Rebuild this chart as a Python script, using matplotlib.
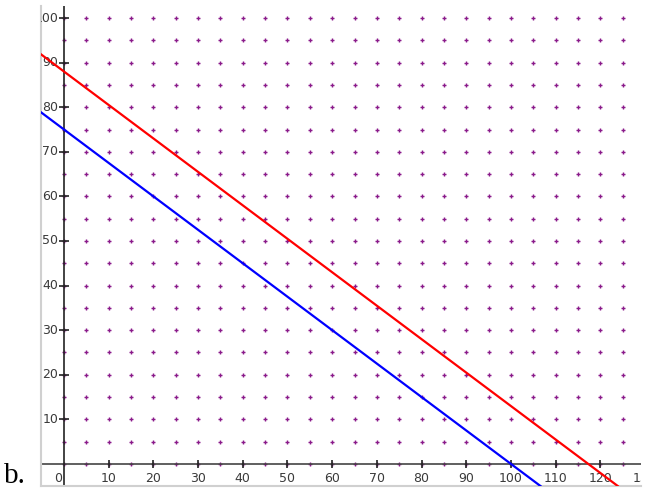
import numpy as np
import matplotlib
matplotlib.use("Agg")
from matplotlib import pyplot as plt

# two points
red_x = [0, 117.3]
red_y = [88, 0]
blue_x = [0, 100]
blue_y = [75, 0]

x_major = [0, 10, 20, 30, 40, 50, 60, 70, 80, 90, 100, 110, 120, 130]
y_major = [10, 20, 30, 40, 50, 60, 70, 80, 90, 100]
grid_x = np.arange(0, 130, 5)
grid_y = np.arange(0, 105, 5)

label_color = '#3a3a3a'
dot_color = '#8a1a8a'

fig = plt.figure(figsize=(6.46, 4.90), dpi=100)
ax = fig.add_axes([41 / 646, 1 - 486 / 490, 600 / 646, 480 / 490])
ax.set_xlim(-5.15, 129.1)
ax.set_ylim(-4.95, 102.7)
ax.set_xticks([])
ax.set_yticks([])
for side in ['top', 'right']:
    ax.spines[side].set_visible(False)
for side in ['left', 'bottom']:
    ax.spines[side].set_color('#d0d0d0')
    ax.spines[side].set_linewidth(1.5)

# purple grid crosses
gx, gy = np.meshgrid(grid_x, grid_y)
ax.plot(gx.ravel(), gy.ravel(), linestyle='none', marker='+', markersize=3.5,
        markeredgewidth=1, color=dot_color, zorder=1)

# axes lines
ax.axhline(0, color='#444444', lw=1.2, zorder=2)
ax.axvline(0, color='#222222', lw=1.2, zorder=2)

# major ticks
ax.plot(x_major[1:], [0] * (len(x_major) - 1), linestyle='none', marker='|',
        markersize=6, markeredgewidth=1.2, color='#222222', zorder=3)
ax.plot([0] * len(y_major), y_major, linestyle='none', marker='_',
        markersize=7, markeredgewidth=1.2, color='#222222', zorder=3)

# tick labels (drawn inside the box, clipped at the edges)
for v in x_major:
    xs = v - 1.4 if v == 0 else v
    ax.text(xs, -3.3, str(v), ha='center', va='center', fontsize=9,
            color=label_color, clip_on=True, family='DejaVu Sans')
for v in y_major:
    ax.text(-1.3, v, str(v), ha='right', va='center', fontsize=9,
            color=label_color, clip_on=True, family='DejaVu Sans')

# the two lines
ax.axline((red_x[0], red_y[0]), (red_x[1], red_y[1]), color='red', lw=1.6, zorder=4)
ax.axline((blue_x[0], blue_y[0]), (blue_x[1], blue_y[1]), color='blue', lw=1.6, zorder=4)

fig.text(4 / 646, 1 - 483 / 490, 'b.', fontsize=21, family='Liberation Serif',
         ha='left', va='baseline')

fig.savefig('out.png', dpi=100)
